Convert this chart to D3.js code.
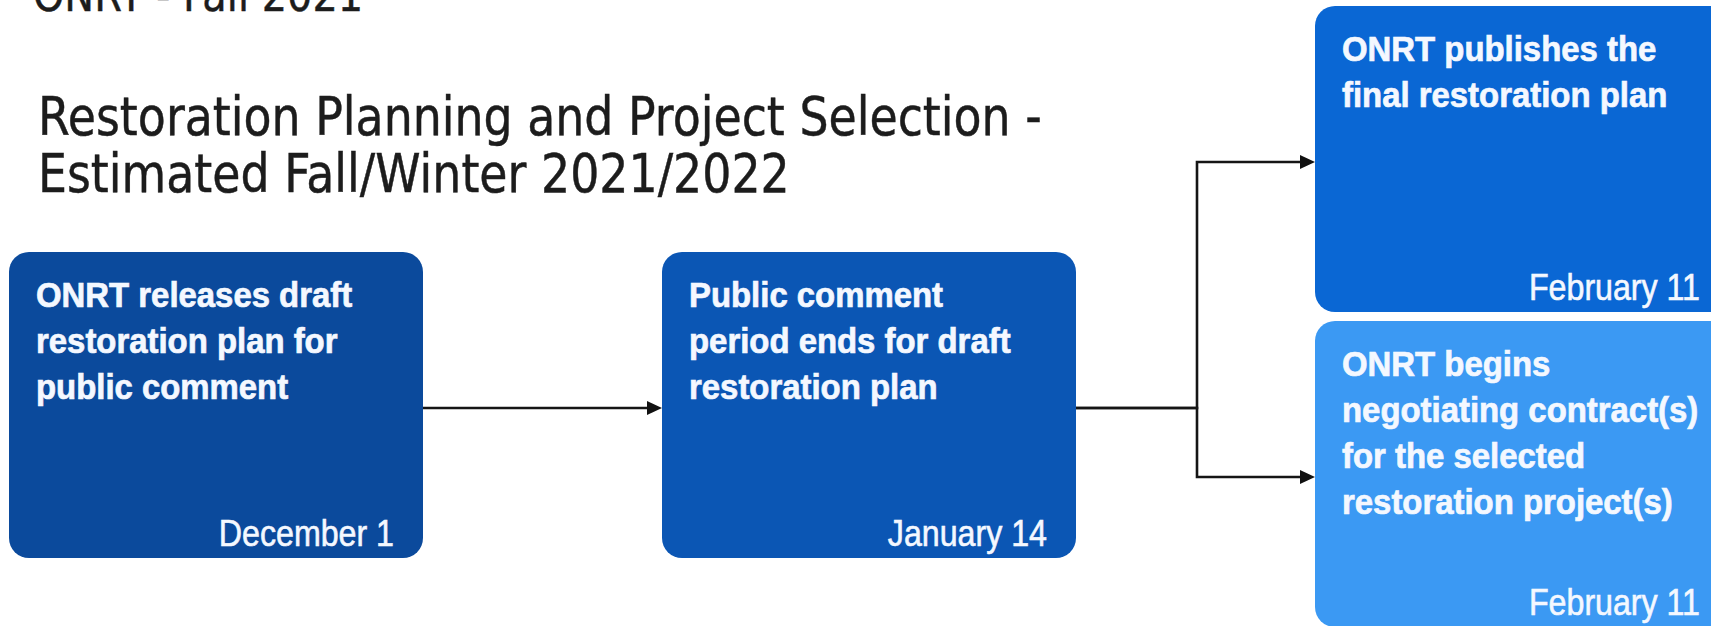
<!DOCTYPE html>
<html><head><meta charset="utf-8">
<script src="https://cdn.jsdelivr.net/npm/d3@7"></script>
<style>html,body{margin:0;padding:0;background:#fff;overflow:hidden}</style>
</head><body>
<svg id="chart" width="1711" height="626"></svg>
<script>
// ---------- data ----------
const headerLines = ["ONRT - Fall 2021"];
const titleLines = ["Restoration Planning and Project Selection -", "Estimated Fall/Winter 2021/2022"];
const stepIds = ["release", "commentEnd", "finalPlan", "negotiate"];
const stepTexts = [
  ["ONRT releases draft", "restoration plan for", "public comment"],
  ["Public comment", "period ends for draft", "restoration plan"],
  ["ONRT publishes the", "final restoration plan"],
  ["ONRT begins", "negotiating contract(s)", "for the selected", "restoration project(s)"]
];
const stepDates = ["December 1", "January 14", "February 11", "February 11"];
const stepColumn = [0, 1, 2, 2];
const stepRow = ["mid", "mid", "top", "bottom"];
const links = [["release", "commentEnd"], ["commentEnd", "finalPlan"], ["commentEnd", "negotiate"]];

// ---------- layout / style ----------
const W = 1711, H = 626;
const boxW = 414, boxH = 306, radius = 20;
const padL = 27, padR = 29, firstBase = 55, lineGap = 46, dateBottom = 12;
const linkOffset = 156;
const elbow = 121, arrowLen = 15, arrowHalf = 7;
const titleX = 38, titleWidth = 1004;
const bodySize = 35, bodyScaleX = 0.94, dateSize = 37, dateScaleX = 0.87;

const x = d3.scaleLinear().domain([0, 2]).range([9, 1315]);
const y = d3.scaleOrdinal().domain(["top", "mid", "bottom"]).range([6, 252, 321]);
const fill = d3.scaleOrdinal().domain(stepIds).range(["#0b4a9c", "#0b56b4", "#0a67d4", "#3b99f3"]);

const steps = stepIds.map((id, i) => ({
  id, lines: stepTexts[i], date: stepDates[i],
  x0: x(stepColumn[i]), y0: y(stepRow[i])
}));
const byId = new Map(steps.map(s => [s.id, s]));

const svg = d3.select("#chart");

// ---------- titles ----------
const tg = svg.append("g").attr("font-family", "'DejaVu Sans', Verdana, sans-serif")
  .attr("fill", "#1c1c1c").attr("stroke", "#1c1c1c").attr("stroke-width", 0.5);
const t1 = tg.selectAll("text.title").data(titleLines).join("text")
  .attr("class", "title").attr("x", 0).attr("y", (d, i) => 135 + i * 57)
  .attr("font-size", 54).text(d => d);
const natural = t1.nodes()[0].getComputedTextLength();
const sx = titleWidth / natural;
tg.attr("transform", `translate(${titleX},0) scale(${sx},1)`);
tg.selectAll("text.header").data(headerLines).join("text")
  .attr("class", "header").attr("x", -6).attr("y", 11).attr("font-size", 47).text(d => d);

// ---------- connectors ----------
const lg = svg.append("g");
links.forEach(([a, b]) => {
  const s = byId.get(a), t = byId.get(b);
  const ax = s.x0 + boxW, ay = s.y0 + linkOffset;
  const bx = t.x0, by = t.y0 + linkOffset;
  const p = d3.path();
  p.moveTo(ax, ay);
  if (Math.abs(ay - by) < 1) {
    p.lineTo(bx - arrowLen + 1, by);
  } else {
    p.lineTo(ax + elbow, ay);
    p.lineTo(ax + elbow, by);
    p.lineTo(bx - arrowLen + 1, by);
  }
  lg.append("path").attr("d", p.toString()).attr("fill", "none")
    .attr("stroke", "#151515").attr("stroke-width", 2.6).attr("stroke-linejoin", "miter");
  lg.append("path")
    .attr("d", `M${bx},${by}L${bx - arrowLen},${by - arrowHalf}L${bx - arrowLen},${by + arrowHalf}Z`)
    .attr("fill", "#111");
});

// ---------- boxes ----------
const bg = svg.selectAll("g.step").data(steps).join("g").attr("class", "step")
  .attr("transform", d => `translate(${d.x0},${d.y0})`);
bg.append("rect").attr("width", boxW).attr("height", boxH)
  .attr("rx", radius).attr("ry", radius).attr("fill", d => fill(d.id));
bg.each(function (d) {
  const g = d3.select(this);
  g.selectAll("text.body").data(d.lines).join("text").attr("class", "body")
    .attr("transform", (l, i) => `translate(${padL},${firstBase + i * lineGap}) scale(${bodyScaleX},1)`)
    .attr("font-family", "'Liberation Sans', Arial, sans-serif").attr("font-weight", "bold")
    .attr("font-size", bodySize).attr("fill", "#f4f8ff")
    .attr("stroke", "#f4f8ff").attr("stroke-width", 0.7).text(l => l);
  g.append("text").attr("class", "date")
    .attr("transform", `translate(${boxW - padR},${boxH - dateBottom}) scale(${dateScaleX},1)`)
    .attr("text-anchor", "end")
    .attr("font-family", "'Liberation Sans', Arial, sans-serif")
    .attr("font-size", dateSize).attr("fill", "#f4f8ff")
    .attr("stroke", "#f4f8ff").attr("stroke-width", 0.6).text(d.date);
});
</script>
</body></html>
